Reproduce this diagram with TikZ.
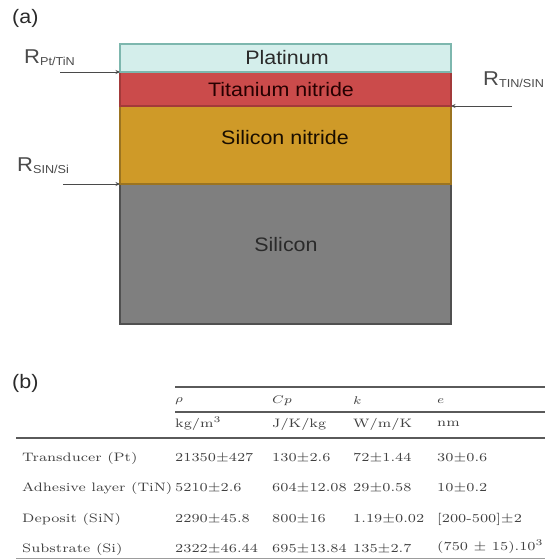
\documentclass[tikz,border=0pt]{standalone}
\usepackage{fontspec}
\usepackage{graphicx}
\newfontfamily\lsans[FakeStretch=1.1]{Liberation Sans}
\usetikzlibrary{arrows.meta}
\definecolor{ptf}{HTML}{D4EEEB}
\definecolor{ptb}{HTML}{7DB7AE}
\definecolor{tinf}{HTML}{CB4B4B}
\definecolor{tinb}{HTML}{A33A3A}
\definecolor{sinf}{HTML}{CF9A28}
\definecolor{sinb}{HTML}{9C7420}
\definecolor{sif}{HTML}{7F7F7F}
\definecolor{sib}{HTML}{505050}
\definecolor{txt}{HTML}{2A2A2A}
\definecolor{tbtxt}{HTML}{404040}
\definecolor{rule}{HTML}{5A5A5A}
\newcommand{\tbl}[1]{\scalebox{2.05}[1.75]{\fontsize{7}{8}\selectfont #1}}
\newcommand{\tbh}[1]{\scalebox{1.9}[1.6]{\fontsize{7}{8}\selectfont #1}}
\begin{document}
\begin{tikzpicture}[x=1pt,y=-1pt,
  layer/.style={draw, line width=1.1pt, anchor=north west, inner sep=0pt, outer sep=0pt},
  lab/.style={font=\lsans\fontsize{19.5}{22}\selectfont, text=txt, inner sep=0pt},
  rlab/.style={font=\lsans\fontsize{20}{22}\selectfont, text=txt!85, inner sep=0pt, anchor=base west},
  conn/.style={draw=txt!85, line width=0.8pt, -{Stealth[length=4.5pt,width=4pt]}},
  tcell/.style={anchor=west, inner sep=0pt, text=tbtxt},
  trule/.style={draw=rule, line width=1.1pt}]
\useasboundingbox (0,0) rectangle (552,560);
% layers
\node[layer, draw=sib, fill=sif, minimum width=331pt, minimum height=140pt] (si) at (120,184) {};
\node[layer, draw=sinb, fill=sinf, minimum width=331pt, minimum height=78pt] (sin) at (120,106) {};
\node[layer, draw=tinb, fill=tinf, minimum width=331pt, minimum height=34pt] (tin) at (120,72) {};
\node[layer, draw=ptb, fill=ptf, minimum width=331pt, minimum height=28pt] (pt) at (120,44) {};
\node[lab] (ptl) at (287,58) {Platinum};
\node[lab, text=black!85!red] (tinl) at (281,90) {Titanium nitride};
\node[lab, text=black!90!orange] (sinl) at (285,138) {Silicon nitride};
\node[lab] (sil) at (286,245) {Silicon};
% panel labels
\node[lab, anchor=west] (pa) at (12,18) {(a)};
\node[lab, anchor=west] (pb) at (12,383) {(b)};
% interface resistances
\node[rlab] (r1) at (24,63) {R\raisebox{-2.5pt}{\fontsize{11.5}{12}\selectfont Pt/TiN}};
\node[rlab] (r2) at (483,85) {R\raisebox{-2.5pt}{\fontsize{11.5}{12}\selectfont TIN/SIN}};
\node[rlab] (r3) at (17,171) {R\raisebox{-2.5pt}{\fontsize{11.5}{12}\selectfont SIN/Si}};
\coordinate (a1) at (60,72);
\coordinate (a2) at (512,106);
\coordinate (a3) at (63,184);
\draw[conn] (a1) -- (pt.south west);
\draw[conn] (a2) -- (tin.south east);
\draw[conn] (a3) -- (sin.south west);
% table rules
\coordinate (r1a) at (175,387); \coordinate (r1b) at (545,387);
\coordinate (r2a) at (175,412); \coordinate (r2b) at (545,412);
\coordinate (r3a) at (16,438); \coordinate (r3b) at (545,438);
\coordinate (r4a) at (16,558); \coordinate (r4b) at (545,558);
\draw[trule] (r1a) -- (r1b);
\draw[trule] (r2a) -- (r2b);
\draw[trule, line width=1.4pt] (r3a) -- (r3b);
\draw[trule, line width=0.9pt, draw=rule!60] (r4a) -- (r4b);
% header
\node[tcell] (h1) at (175,401) {\tbh{$\rho$}};
\node[tcell] (h2) at (272,401) {\tbh{$Cp$}};
\node[tcell] (h3) at (353,401) {\tbh{$k$}};
\node[tcell] (h4) at (437,401) {\tbh{$e$}};
\node[tcell] (u1) at (175,424) {\tbl{kg/m$^3$}};
\node[tcell] (u2) at (272,424) {\tbl{J/K/kg}};
\node[tcell] (u3) at (353,424) {\tbl{W/m/K}};
\node[tcell] (u4) at (437,424) {\tbl{nm}};
% rows
\node[tcell] (c10) at (22,458) {\tbl{Transducer (Pt)}};
\node[tcell] (c11) at (175,458) {\tbl{21350$\pm$427}};
\node[tcell] (c12) at (272,458) {\tbl{130$\pm$2.6}};
\node[tcell] (c13) at (353,458) {\tbl{72$\pm$1.44}};
\node[tcell] (c14) at (437,458) {\tbl{30$\pm$0.6}};
\node[tcell] (c20) at (22,488) {\tbl{Adhesive layer (TiN)}};
\node[tcell] (c21) at (175,488) {\tbl{5210$\pm$2.6}};
\node[tcell] (c22) at (272,488) {\tbl{604$\pm$12.08}};
\node[tcell] (c23) at (353,488) {\tbl{29$\pm$0.58}};
\node[tcell] (c24) at (437,488) {\tbl{10$\pm$0.2}};
\node[tcell] (c30) at (22,519) {\tbl{Deposit (SiN)}};
\node[tcell] (c31) at (175,519) {\tbl{2290$\pm$45.8}};
\node[tcell] (c32) at (272,519) {\tbl{800$\pm$16}};
\node[tcell] (c33) at (353,519) {\tbl{1.19$\pm$0.02}};
\node[tcell] (c34) at (437,519) {\tbl{[200-500]$\pm$2}};
\node[tcell] (c40) at (22,549) {\tbl{Substrate (Si)}};
\node[tcell] (c41) at (175,549) {\tbl{2322$\pm$46.44}};
\node[tcell] (c42) at (272,549) {\tbl{695$\pm$13.84}};
\node[tcell] (c43) at (353,549) {\tbl{135$\pm$2.7}};
\node[tcell] (c44) at (437,547) {\tbl{(750 $\pm$ 15).10$^3$}};
\end{tikzpicture}
\end{document}
